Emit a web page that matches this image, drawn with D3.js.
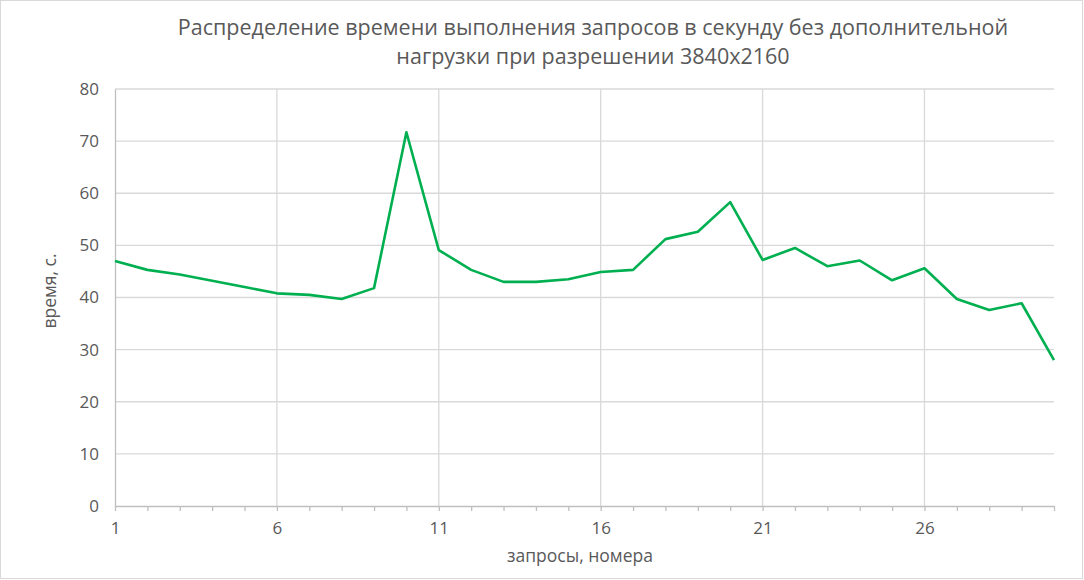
<!DOCTYPE html>
<html>
<head>
<meta charset="utf-8">
<script src="https://cdnjs.cloudflare.com/ajax/libs/d3/7.8.5/d3.min.js"></script>
<style>
  body { margin: 0; background: #fff; }
  svg text { font-family: "Open Sans", "Noto Sans", sans-serif; fill: #595959; }
</style>
</head>
<body>
<svg id="chart" width="1084" height="580"></svg>
<script>
// request numbers and their execution times (seconds)
var requests = d3.range(1, 31);
var times = [47.0, 45.3, 44.4, 43.2, 42.0, 40.8, 40.5, 39.7, 41.8, 71.7,
             49.1, 45.3, 43.0, 43.0, 43.5, 44.9, 45.3, 51.2, 52.6, 58.3,
             47.2, 49.5, 46.0, 47.1, 43.3, 45.6, 39.7, 37.6, 38.9, 28.0];
var xTicks = [1, 6, 11, 16, 21, 26];
var yTicks = [0, 10, 20, 30, 40, 50, 60, 70, 80];
var titleLines = ["Распределение времени выполнения запросов в секунду без дополнительной",
                  "нагрузки при разрешении 3840x2160"];
var xTitle = "запросы, номера";
var yTitle = "время, с.";

var svg = d3.select("#chart");
var W = 1084, H = 580;
var margin = { left: 115, right: 30, top: 89, bottom: 74 };

svg.append("rect")
    .attr("x", 0.5).attr("y", 0.5)
    .attr("width", W - 2).attr("height", H - 2)
    .attr("fill", "#fff").attr("stroke", "#d9d9d9");

var x = d3.scaleLinear().domain([1, 30]).range([margin.left, W - margin.right]);
var y = d3.scaleLinear().domain([0, 80]).range([H - margin.bottom, margin.top]);

// horizontal gridlines
svg.append("g")
    .selectAll("line")
    .data(yTicks.filter(function (d) { return d > 0; }))
    .enter().append("line")
    .attr("x1", x(1)).attr("x2", x(30))
    .attr("y1", function (d) { return y(d); })
    .attr("y2", function (d) { return y(d); })
    .attr("stroke", "#d9d9d9").attr("stroke-width", 1.3);

// vertical gridlines
svg.append("g")
    .selectAll("line")
    .data(xTicks.filter(function (d) { return d > 1; }))
    .enter().append("line")
    .attr("x1", function (d) { return x(d); })
    .attr("x2", function (d) { return x(d); })
    .attr("y1", y(0)).attr("y2", y(80))
    .attr("stroke", "#d9d9d9").attr("stroke-width", 1.3);

// y axis
var yAxis = svg.append("g")
    .attr("transform", "translate(" + x(1) + ",0)")
    .call(d3.axisLeft(y).tickValues(yTicks).tickSize(0).tickPadding(16));
yAxis.select(".domain").attr("stroke", "#bfbfbf").attr("stroke-width", 1.3);
yAxis.selectAll("text").style("font-size", "17px").attr("fill", "#595959");

// x axis, minor ticks at every request
var xAxis = svg.append("g")
    .attr("transform", "translate(0," + y(0) + ")")
    .call(d3.axisBottom(x).tickValues(requests).tickSizeInner(5).tickSizeOuter(0).tickPadding(11)
        .tickFormat(function (d) { return xTicks.indexOf(d) >= 0 ? d : ""; }));
xAxis.select(".domain").attr("stroke", "#bfbfbf").attr("stroke-width", 1.3);
xAxis.selectAll(".tick line").attr("stroke", "#bfbfbf").attr("stroke-width", 1.3);
xAxis.selectAll("text").style("font-size", "17px").attr("fill", "#595959");

// data line
var line = d3.line()
    .x(function (d, i) { return x(requests[i]); })
    .y(function (d) { return y(d); });
svg.append("path")
    .datum(times)
    .attr("d", line)
    .attr("fill", "none")
    .attr("stroke", "#00b050")
    .attr("stroke-width", 2.6)
    .attr("stroke-linejoin", "round");

// title
svg.append("g").selectAll("text")
    .data(titleLines)
    .enter().append("text")
    .attr("x", 593)
    .attr("y", function (d, i) { return 35 + i * 29; })
    .attr("text-anchor", "middle")
    .style("font-size", "21.5px")
    .text(function (d) { return d; });

svg.append("text")
    .attr("x", 580).attr("y", 562)
    .attr("text-anchor", "middle")
    .style("font-size", "17.5px")
    .text(xTitle);

svg.append("text")
    .attr("transform", "translate(56,291) rotate(-90)")
    .attr("text-anchor", "middle")
    .style("font-size", "17.5px")
    .text(yTitle);
</script>
</body>
</html>
